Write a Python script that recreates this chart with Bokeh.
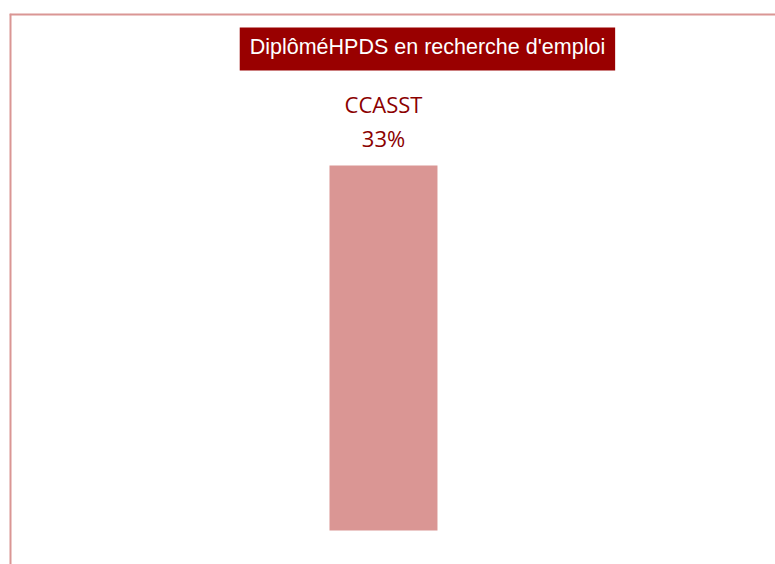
from bokeh.plotting import figure
from bokeh.models import Range1d, Span, Label, ColumnDataSource
from bokeh.core.properties import value
from bokeh.embed import file_html
from bokeh.resources import INLINE

# Data
categories = ["CCASST"]
values = [33]
title_text = "DiplôméHPDS en recherche d'emploi"

x_pos = list(range(len(categories)))
src = ColumnDataSource(dict(
    x=x_pos,
    top=values,
    cat=categories,
    pct=[f"{v}%" for v in values],
))

p = figure(width=775, height=564, output_backend="svg", toolbar_location=None,
           x_axis_location=None, y_axis_location=None,
           x_range=Range1d(-3.463, 3.630), y_range=Range1d(-3.074, 46.75),
           min_border_left=9, min_border_top=13, min_border_right=0, min_border_bottom=0)
p.grid.visible = False
p.outline_line_color = None
p.background_fill_color = "white"
p.border_fill_color = "white"

border_color = "#DA9694"
p.add_layout(Span(location=p.x_range.start, dimension="height", line_color=border_color, line_width=4))
p.add_layout(Span(location=p.y_range.end, dimension="width", line_color=border_color, line_width=4))

p.vbar(x="x", top="top", bottom=0, width=1.0, source=src, fill_color=border_color, line_color=None)

label_color = "#8B0000"
p.text(x="x", y="top", text="pct", source=src, text_align="center", text_baseline="alphabetic",
       y_offset=-28, text_font=value("Open Sans"), text_font_size="22px", text_color=label_color)
p.text(x="x", y="top", text="cat", source=src, text_align="center", text_baseline="alphabetic",
       y_offset=-62, text_font=value("Open Sans"), text_font_size="22px", text_color=label_color)

title = Label(x=0.407, y=43.54, text=title_text, text_align="center", text_baseline="middle",
              text_font="Liberation Sans", text_font_size="21.5px", text_color="white",
              background_fill_color="#990000", padding=(10, 10, 8, 11))
p.add_layout(title)

open("out.html", "w").write(file_html(p, INLINE))
